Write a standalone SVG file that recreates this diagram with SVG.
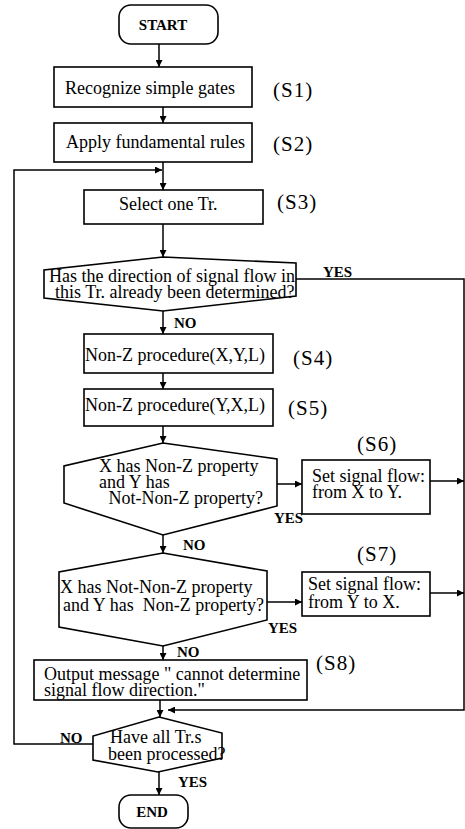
<svg xmlns="http://www.w3.org/2000/svg" width="465" height="829" viewBox="0 0 465 829">
  <style>
    .box { fill: #fff; stroke: #000; stroke-width: 1.6; }
    .t { font-family: "Liberation Serif", "Times New Roman", serif; font-size: 18px; fill: #000; white-space: pre; }
    .b { font-family: "Liberation Serif", "Times New Roman", serif; font-size: 15px; font-weight: bold; fill: #000; }
    .s { font-family: "Liberation Serif", "Times New Roman", serif; font-size: 21px; letter-spacing: 1px; fill: #000; }
    .c { fill: none; stroke: #000; stroke-width: 1.5; }
  </style>
  <defs>
    <marker id="arrow" viewBox="0 0 10 10" refX="10" refY="5" markerWidth="7" markerHeight="7" markerUnits="userSpaceOnUse" orient="auto">
      <path d="M0,0 L10,5 L0,10 Z" fill="#000"/>
    </marker>
  </defs>

  <rect width="465" height="829" fill="#fff"/>

  <!-- connectors -->
  <g id="connectors" class="c" marker-end="url(#arrow)">
    <line x1="159" y1="44" x2="159" y2="67"/>
    <line x1="163" y1="107" x2="163" y2="123"/>
    <line x1="163" y1="162" x2="163" y2="190"/>
    <polyline points="94,744 14,744 14,170 162,170"/>
    <line x1="163" y1="224" x2="163" y2="257"/>
    <polyline points="296,279 464,279 464,710 168,710"/>
    <line x1="163" y1="311" x2="163" y2="334"/>
    <line x1="163" y1="373" x2="163" y2="389"/>
    <line x1="163" y1="426" x2="163" y2="443"/>
    <line x1="277" y1="484" x2="302" y2="484"/>
    <line x1="430" y1="481" x2="464" y2="481"/>
    <line x1="163" y1="535" x2="163" y2="553"/>
    <line x1="267" y1="602" x2="302" y2="602"/>
    <line x1="430" y1="593" x2="464" y2="593"/>
    <line x1="163" y1="646" x2="163" y2="660"/>
    <line x1="160" y1="700" x2="160" y2="717"/>
    <line x1="159" y1="772" x2="159" y2="795"/>
  </g>

  <!-- branch labels -->
  <g id="labels">
    <text class="b" x="323" y="277">YES</text>
    <text class="b" x="174" y="328">NO</text>
    <text class="b" x="274" y="523">YES</text>
    <text class="b" x="183" y="550">NO</text>
    <text class="b" x="268" y="633">YES</text>
    <text class="b" x="177" y="657">NO</text>
    <text class="b" x="60" y="743">NO</text>
    <text class="b" x="178" y="787">YES</text>
  </g>

  <g id="start">
    <rect class="box" x="119" y="5" width="99" height="39" rx="12"/>
    <text class="b" x="163" y="30" text-anchor="middle">START</text>
  </g>

  <g id="s1">
    <rect class="box" x="54" y="67" width="198" height="40"/>
    <text class="t" x="65" y="94">Recognize simple gates</text>
    <text class="s" x="273" y="97">(S1)</text>
  </g>

  <g id="s2">
    <rect class="box" x="54" y="123" width="198" height="39"/>
    <text class="t" x="66" y="148">Apply fundamental rules</text>
    <text class="s" x="273" y="151">(S2)</text>
  </g>

  <g id="s3">
    <rect class="box" x="84" y="190" width="179" height="34"/>
    <text class="t" x="119" y="210">Select one Tr.</text>
    <text class="s" x="277" y="209">(S3)</text>
  </g>

  <g id="decision-determined">
    <polygon class="box" points="163,257 296,263 296,296 163,311 44,298 44,270"/>
    <text class="t" x="49" y="282">Has the direction of signal flow in</text>
    <text class="t" x="55" y="298">this Tr. already been determined?</text>
  </g>

  <g id="s4">
    <rect class="box" x="84" y="334" width="189" height="39"/>
    <text class="t" x="85" y="361">Non-Z procedure(X,Y,L)</text>
    <text class="s" x="293" y="365">(S4)</text>
  </g>

  <g id="s5">
    <rect class="box" x="84" y="389" width="189" height="37"/>
    <text class="t" x="85" y="411">Non-Z procedure(Y,X,L)</text>
    <text class="s" x="288" y="415">(S5)</text>
  </g>

  <g id="decision-x-to-y">
    <polygon class="box" points="163,443 277,459 277,506 163,535 64,503 64,466"/>
    <text class="t" x="99" y="472">X has Non-Z property</text>
    <text class="t" x="99" y="488">and Y has</text>
    <text class="t" x="104" y="504"> Not-Non-Z property?</text>
  </g>

  <g id="s6">
    <rect class="box" x="302" y="460" width="128" height="54"/>
    <text class="t" x="312" y="482">Set signal flow:</text>
    <text class="t" x="312" y="498">from X to Y.</text>
    <text class="s" x="357" y="451">(S6)</text>
  </g>

  <g id="decision-y-to-x">
    <polygon class="box" points="163,553 267,571 267,620 163,646 59,627 59,572"/>
    <text class="t" x="60" y="593">X has Not-Non-Z property</text>
    <text class="t" x="63" y="611">and Y has  Non-Z property?</text>
  </g>

  <g id="s7">
    <rect class="box" x="302" y="572" width="128" height="44"/>
    <text class="t" x="308" y="590">Set signal flow:</text>
    <text class="t" x="308" y="608">from Y to X.</text>
    <text class="s" x="357" y="561">(S7)</text>
  </g>

  <g id="s8">
    <rect class="box" x="34" y="660" width="273" height="40"/>
    <text class="t" x="44" y="680">Output message " cannot determine</text>
    <text class="t" x="44" y="696">signal flow direction."</text>
    <text class="s" x="316" y="670">(S8)</text>
  </g>

  <g id="decision-all-processed">
    <polygon class="box" points="159,717 222,733 222,758 158,772 93,760 93,736"/>
    <text class="t" x="110" y="743">Have all Tr.s</text>
    <text class="t" x="108" y="760">been processed?</text>
  </g>

  <g id="end">
    <rect class="box" x="119" y="795" width="69" height="33" rx="12"/>
    <text class="b" x="152" y="817" text-anchor="middle">END</text>
  </g>
</svg>
